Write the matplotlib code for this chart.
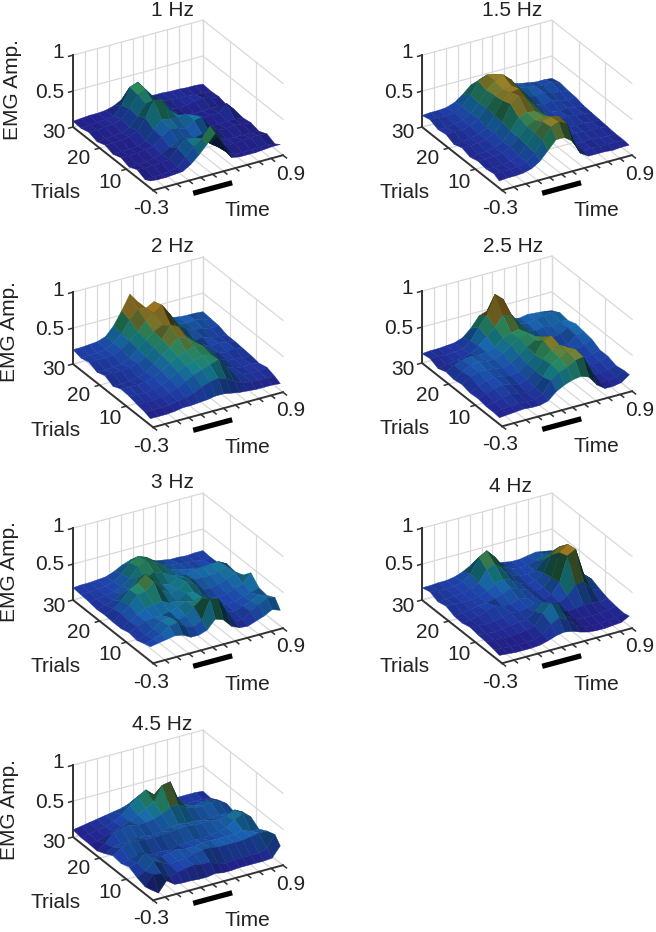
import numpy as np
import matplotlib
matplotlib.use("Agg")
import matplotlib.pyplot as plt
from matplotlib.colors import LinearSegmentedColormap, LightSource
from mpl_toolkits.mplot3d import proj3d

W, H = 656, 932
plt.rcParams['font.family'] = ['Liberation Sans', 'DejaVu Sans']

trials = [30, 27, 24, 21, 18, 15, 12, 9, 6, 3, 1]
time_s = [-0.3, -0.225, -0.15, -0.075, 0.0, 0.075, 0.15, 0.225, 0.3, 0.375, 0.45, 0.525, 0.6, 0.675, 0.75, 0.825, 0.9]

hz_1_0 = [
[.08,.09,.10,.10,.11,.14,.20,.22,.18,.15,.14,.14,.13,.13,.12,.12,.11],
[.07,.08,.09,.10,.12,.24,.46,.50,.36,.20,.15,.13,.12,.12,.11,.10,.10],
[.10,.11,.11,.13,.16,.28,.44,.48,.34,.20,.13,.10,.11,.14,.16,.12,.11],
[.06,.07,.08,.09,.14,.26,.40,.38,.28,.20,.14,.10,.09,.09,.10,.09,.08],
[.10,.10,.11,.12,.18,.33,.54,.52,.34,.24,.18,.12,.11,.12,.12,.22,.10],
[.06,.07,.07,.08,.12,.25,.36,.34,.33,.34,.30,.14,.09,.08,.10,.09,.08],
[.10,.10,.11,.12,.14,.24,.32,.30,.26,.34,.36,.18,.12,.11,.13,.11,.10],
[.06,.06,.07,.09,.12,.18,.24,.22,.22,.24,.20,.12,.08,.08,.08,.08,.07],
[.11,.10,.11,.12,.13,.26,.36,.34,.30,.20,.12,.11,.11,.12,.13,.14,.12],
[.06,.06,.07,.08,.11,.22,.34,.42,.56,.40,.14,.08,.07,.08,.08,.09,.07],
[.10,.09,.09,.10,.11,.18,.28,.40,.52,.34,.12,.10,.10,.10,.11,.12,.12]]
hz_1_5 = [
[.16,.17,.17,.18,.22,.30,.40,.44,.40,.36,.32,.28,.24,.22,.20,.20,.19],
[.19,.19,.18,.20,.26,.38,.54,.60,.58,.48,.38,.30,.28,.26,.24,.26,.22],
[.14,.14,.15,.18,.24,.36,.50,.60,.66,.56,.40,.27,.24,.26,.22,.21,.20],
[.16,.17,.16,.19,.26,.38,.52,.58,.60,.52,.40,.25,.20,.24,.20,.18,.19],
[.11,.12,.13,.16,.22,.36,.54,.62,.64,.46,.34,.22,.20,.18,.19,.17,.16],
[.15,.15,.16,.18,.24,.36,.58,.66,.58,.46,.30,.20,.18,.20,.17,.17,.15],
[.11,.12,.13,.15,.20,.32,.48,.52,.50,.44,.28,.19,.16,.15,.16,.14,.14],
[.14,.14,.15,.16,.22,.32,.44,.50,.52,.48,.26,.16,.17,.16,.14,.15,.13],
[.12,.11,.12,.14,.18,.30,.44,.56,.60,.58,.28,.14,.13,.14,.13,.12,.12],
[.14,.14,.14,.15,.18,.28,.42,.58,.62,.56,.24,.12,.14,.12,.12,.13,.12],
[.10,.11,.11,.12,.15,.22,.34,.46,.46,.38,.18,.11,.11,.11,.10,.11,.11]]
hz_2_0 = [
[.20,.20,.21,.22,.26,.38,.56,.76,.62,.48,.36,.30,.28,.26,.25,.25,.24],
[.17,.18,.18,.20,.26,.36,.52,.64,.62,.68,.52,.36,.28,.26,.28,.25,.23],
[.20,.20,.20,.21,.26,.34,.44,.56,.64,.72,.56,.38,.30,.26,.24,.22,.22],
[.15,.15,.16,.17,.22,.32,.42,.50,.56,.54,.42,.32,.22,.24,.20,.19,.18],
[.19,.19,.20,.21,.24,.30,.40,.48,.64,.60,.44,.34,.26,.20,.22,.20,.18],
[.13,.13,.14,.16,.20,.28,.38,.46,.56,.54,.44,.36,.22,.20,.18,.20,.17],
[.18,.18,.18,.19,.22,.28,.36,.42,.46,.50,.48,.38,.24,.18,.17,.15,.16],
[.17,.16,.15,.17,.20,.25,.32,.38,.42,.46,.44,.36,.22,.16,.15,.16,.14],
[.14,.14,.14,.15,.18,.22,.28,.34,.38,.42,.46,.32,.20,.17,.15,.15,.17],
[.12,.12,.12,.13,.15,.17,.20,.26,.30,.32,.28,.22,.16,.15,.14,.14,.13],
[.09,.09,.09,.10,.12,.12,.13,.14,.16,.16,.14,.12,.11,.10,.10,.10,.09]]
hz_2_5 = [
[.13,.14,.14,.15,.16,.20,.30,.44,.48,.40,.34,.28,.26,.28,.27,.26,.24],
[.15,.15,.14,.15,.16,.24,.40,.54,.80,.70,.44,.30,.27,.30,.32,.33,.30],
[.10,.12,.14,.16,.18,.26,.36,.46,.60,.58,.42,.30,.26,.28,.26,.30,.28],
[.14,.20,.24,.26,.25,.26,.30,.40,.44,.46,.38,.30,.24,.22,.24,.30,.32],
[.12,.20,.26,.28,.26,.25,.30,.38,.46,.50,.42,.30,.22,.20,.18,.28,.30],
[.14,.22,.25,.25,.24,.22,.26,.34,.42,.48,.50,.36,.24,.18,.20,.24,.28],
[.11,.18,.22,.24,.22,.20,.22,.30,.40,.56,.60,.44,.26,.18,.16,.20,.22],
[.12,.16,.20,.22,.20,.17,.20,.30,.42,.52,.56,.50,.30,.17,.17,.18,.22],
[.10,.13,.16,.18,.16,.14,.18,.30,.44,.50,.54,.56,.28,.14,.14,.16,.18],
[.10,.12,.13,.14,.13,.13,.18,.34,.42,.46,.52,.54,.30,.13,.12,.14,.20],
[.09,.10,.11,.12,.11,.11,.14,.24,.30,.34,.36,.32,.18,.10,.10,.12,.20]]
hz_3_0 = [
[.17,.18,.18,.19,.20,.24,.30,.34,.30,.26,.24,.22,.20,.20,.19,.20,.20],
[.16,.17,.18,.19,.22,.30,.42,.48,.44,.36,.28,.24,.23,.21,.20,.19,.19],
[.15,.16,.18,.20,.24,.32,.46,.52,.46,.40,.30,.26,.24,.22,.20,.22,.20],
[.13,.16,.20,.26,.30,.40,.38,.44,.40,.34,.30,.28,.32,.33,.34,.34,.28],
[.14,.20,.28,.40,.46,.56,.44,.36,.32,.38,.36,.30,.30,.30,.32,.36,.26],
[.13,.22,.30,.42,.44,.54,.40,.32,.34,.42,.36,.26,.24,.26,.30,.36,.30],
[.13,.20,.26,.32,.34,.36,.30,.30,.38,.36,.30,.22,.20,.22,.26,.30,.42],
[.16,.22,.26,.28,.28,.30,.34,.38,.36,.38,.30,.20,.19,.20,.24,.26,.30],
[.14,.18,.24,.32,.34,.28,.30,.40,.48,.44,.34,.20,.18,.22,.26,.32,.28],
[.18,.22,.26,.34,.36,.26,.24,.30,.56,.54,.32,.16,.15,.24,.30,.36,.34],
[.20,.22,.24,.26,.24,.18,.18,.22,.34,.30,.18,.13,.12,.16,.20,.26,.22]]
hz_4_0 = [
[.17,.17,.18,.18,.20,.24,.30,.32,.28,.24,.22,.20,.20,.22,.24,.22,.20],
[.20,.19,.18,.19,.22,.30,.50,.56,.44,.28,.22,.20,.20,.24,.30,.26,.22],
[.15,.16,.17,.18,.20,.26,.42,.46,.36,.24,.21,.20,.22,.34,.42,.30,.24],
[.18,.18,.17,.17,.19,.24,.30,.34,.30,.22,.18,.20,.28,.50,.58,.36,.24],
[.13,.14,.16,.18,.19,.22,.26,.30,.26,.22,.18,.19,.30,.62,.70,.38,.22],
[.12,.13,.15,.20,.24,.20,.20,.24,.22,.20,.16,.18,.32,.66,.72,.34,.24],
[.15,.14,.13,.14,.17,.20,.18,.20,.24,.22,.17,.16,.22,.34,.36,.22,.19],
[.13,.12,.11,.12,.14,.16,.16,.24,.34,.30,.18,.13,.13,.15,.15,.14,.15],
[.12,.11,.11,.11,.12,.13,.16,.30,.42,.36,.18,.10,.09,.09,.09,.11,.13],
[.10,.09,.08,.08,.08,.09,.13,.24,.30,.24,.14,.08,.07,.07,.08,.09,.12],
[.08,.07,.06,.06,.06,.07,.10,.14,.16,.14,.10,.07,.06,.06,.07,.08,.14]]
hz_4_5 = [
[.10,.12,.14,.16,.18,.20,.22,.26,.28,.26,.20,.18,.17,.16,.16,.16,.15],
[.08,.10,.12,.14,.18,.24,.34,.44,.50,.40,.30,.24,.18,.16,.16,.16,.14],
[.08,.09,.12,.16,.20,.24,.30,.36,.42,.62,.64,.36,.26,.22,.24,.24,.20],
[.07,.14,.26,.28,.30,.28,.28,.30,.34,.40,.42,.34,.30,.30,.32,.30,.24],
[.12,.18,.20,.20,.22,.22,.20,.22,.24,.26,.24,.24,.22,.22,.24,.22,.20],
[.18,.26,.30,.30,.28,.28,.28,.30,.30,.32,.30,.30,.30,.28,.30,.36,.30],
[.16,.18,.22,.20,.16,.18,.16,.20,.20,.22,.20,.22,.24,.26,.34,.40,.32],
[.20,.22,.34,.24,.22,.24,.26,.24,.24,.26,.26,.26,.26,.26,.28,.24,.24],
[.14,.20,.30,.26,.20,.22,.22,.26,.28,.28,.26,.26,.26,.26,.28,.30,.30],
[.10,.24,.22,.14,.18,.20,.22,.20,.20,.14,.12,.14,.14,.14,.14,.18,.34],
[.12,.04,.18,.10,.09,.09,.08,.08,.10,.08,.08,.09,.09,.09,.09,.10,.24]]

titles = ['1 Hz', '1.5 Hz', '2 Hz', '2.5 Hz', '3 Hz', '4 Hz', '4.5 Hz']
surfaces = [hz_1_0, hz_1_5, hz_2_0, hz_2_5, hz_3_0, hz_4_0, hz_4_5]
time_ticks = [-0.3, -0.19, -0.08, 0.03, 0.14, 0.25, 0.35, 0.46, 0.57, 0.68, 0.79, 0.9]
trial_ticks = [10, 20, 30]
amp_ticks = [0, 0.5, 1]
stim_bar = [-0.05, 0.31]

# layout in reference pixels: (left corner, front corner, right corner)
corners = [((73, 127), (153, 190), (283, 155)),
           ((422, 127), (500, 191), (632, 154)),
           ((73, 364), (153, 428), (283, 392)),
           ((422, 363), (500, 429), (632, 392)),
           ((73, 600), (150, 665), (283, 628)),
           ((422, 600), (500, 665), (632, 628)),
           ((73, 837), (150, 902), (283, 865))]
title_xy = [(172, 10), (512, 11), (172, 247), (513, 246), (172, 482), (510, 487), (162, 724)]
ylab_xy = [(13, 90), None, (10, 332), None, (10, 572), None, (10, 810)]

cmap = LinearSegmentedColormap.from_list('emg', [
    (0.00, '#26208e'), (0.10, '#26269a'), (0.20, '#2048b8'), (0.30, '#1a72bc'),
    (0.38, '#1a9098'), (0.47, '#2f9566'), (0.56, '#8f8a30'), (0.66, '#b88a28'),
    (1.00, '#c89020')])
light = LightSource(azdeg=250, altdeg=55)
TXT = '#222222'
GRID = '#d9d9d9'
AX = '#333333'
FS = 15


def fig_text(x, y, s, **kw):
    fig.text(x / W, 1 - y / H, s, color=TXT, fontsize=FS, ha='center', va='center', **kw)


def to_px(ax, x, y, z):
    xs, ys, _ = proj3d.proj_transform(x, y, z, ax.get_proj())
    return ax.transData.transform((xs, ys))


fig = plt.figure(figsize=(W / 100, H / 100), dpi=100)
S = 420
for k in range(7):
    c0, c1, c2 = corners[k]
    ax = fig.add_axes([(c0[0] - 100) / W, 1 - (c0[1] + 200) / H, S / W, S / H], projection='3d')
    ax.set_proj_type('ortho')
    ax.view_init(elev=27.5, azim=-120.3)
    ax.set_xlim(-0.3, 0.9)
    ax.set_ylim(0, 30)
    ax.set_zlim(0, 1)
    aspect = (150.5, 158.7, 81.0)
    ax.set_box_aspect(aspect, zoom=1.0)
    ax.set_axis_off()
    ax.patch.set_visible(False)
    ax.computed_zorder = False
    ax.apply_aspect()
    # scale and shift so that the box lands on the reference corners
    a = to_px(ax, -0.3, 30, 0)
    b = to_px(ax, 0.9, 0, 0)
    want = np.hypot(c2[0] - c0[0], c2[1] - c0[1])
    ax.set_box_aspect(aspect, zoom=want / np.hypot(*(b - a)))
    a = to_px(ax, -0.3, 30, 0)
    dx = c0[0] - a[0]
    dy = (H - c0[1]) - a[1]
    p = ax.get_position()
    ax.set_position([p.x0 + dx / W, p.y0 + dy / H, p.width, p.height])

    for t in time_ticks:
        ax.plot([t, t], [30, 30], [0, 1], color=GRID, lw=0.9, zorder=1)
        ax.plot([t, t], [0, 30], [0, 0], color=GRID, lw=0.9, zorder=1)
    for tr in trial_ticks:
        ax.plot([0.9, 0.9], [tr, tr], [0, 1], color=GRID, lw=0.9, zorder=1)
        ax.plot([-0.3, 0.9], [tr, tr], [0, 0], color=GRID, lw=0.9, zorder=1)
    for zv in amp_ticks:
        ax.plot([-0.3, 0.9], [30, 30], [zv, zv], color=GRID, lw=0.9, zorder=1)
        ax.plot([0.9, 0.9], [0, 30], [zv, zv], color=GRID, lw=0.9, zorder=1)

    X, Y = np.meshgrid(np.array(time_s), np.array(trials[::-1]))
    Z = np.array(surfaces[k])[::-1]
    ZF = Z.copy()
    ZF[:-1, :-1] = (Z[:-1, :-1] + Z[1:, :-1] + Z[:-1, 1:] + Z[1:, 1:]) / 4
    slope_r = np.abs(np.diff(Z, axis=0, append=Z[-1:]))
    slope_c = np.abs(np.diff(Z, axis=1, append=Z[:, -1:]))
    dark = 1 - np.clip(1.9 * np.hypot(slope_r, slope_c), 0, 0.5)
    colors = cmap(ZF)
    colors[..., :3] *= dark[..., None]
    ax.plot_surface(X, Y, Z, facecolors=colors, rstride=1, cstride=1, shade=True,
                    lightsource=light, linewidth=0.3, antialiased=True, zorder=2)

    ax.plot([-0.3, -0.3], [30, 30], [0, 1], color=AX, lw=1.4, zorder=3)
    ax.plot([-0.3, -0.3], [0, 30], [0, 0], color=AX, lw=1.4, zorder=3)
    ax.plot([-0.3, 0.9], [0, 0], [0, 0], color=AX, lw=1.4, zorder=3)
    for t in time_ticks:
        ax.plot([t, t], [0, -1.3], [0, 0], color=AX, lw=1.1, zorder=3)
    for tr in trial_ticks:
        ax.plot([-0.3, -0.34], [tr, tr], [0, 0], color=AX, lw=1.1, zorder=3)
    for zv in amp_ticks[1:]:
        ax.plot([-0.3, -0.34], [30, 30], [zv, zv], color=AX, lw=1.1, zorder=3)
    ax.plot(stim_bar, [-4.9, -4.9], [0, 0], color='black', lw=3.8, solid_capstyle='butt', zorder=3)

    cx, cy = c0
    fig_text(*title_xy[k], titles[k])
    fig_text(cx - 15, cy - 74, '1')
    fig_text(cx - 23, cy - 35, '0.5')
    fig_text(cx - 19, cy + 6, '30')
    fig_text(cx + 6, cy + 32, '20')
    fig_text(cx + 37, cy + 55, '10')
    fig_text(cx - 17, cy + 66, 'Trials')
    fig_text(cx + 78, cy + 82, '-0.3')
    fig_text(cx + 174, cy + 84, 'Time')
    fig_text(cx + 218, cy + 47, '0.9')
    if ylab_xy[k] is not None:
        fig_text(*ylab_xy[k], 'EMG Amp.', rotation=90)

fig.savefig('out.png', dpi=100)
